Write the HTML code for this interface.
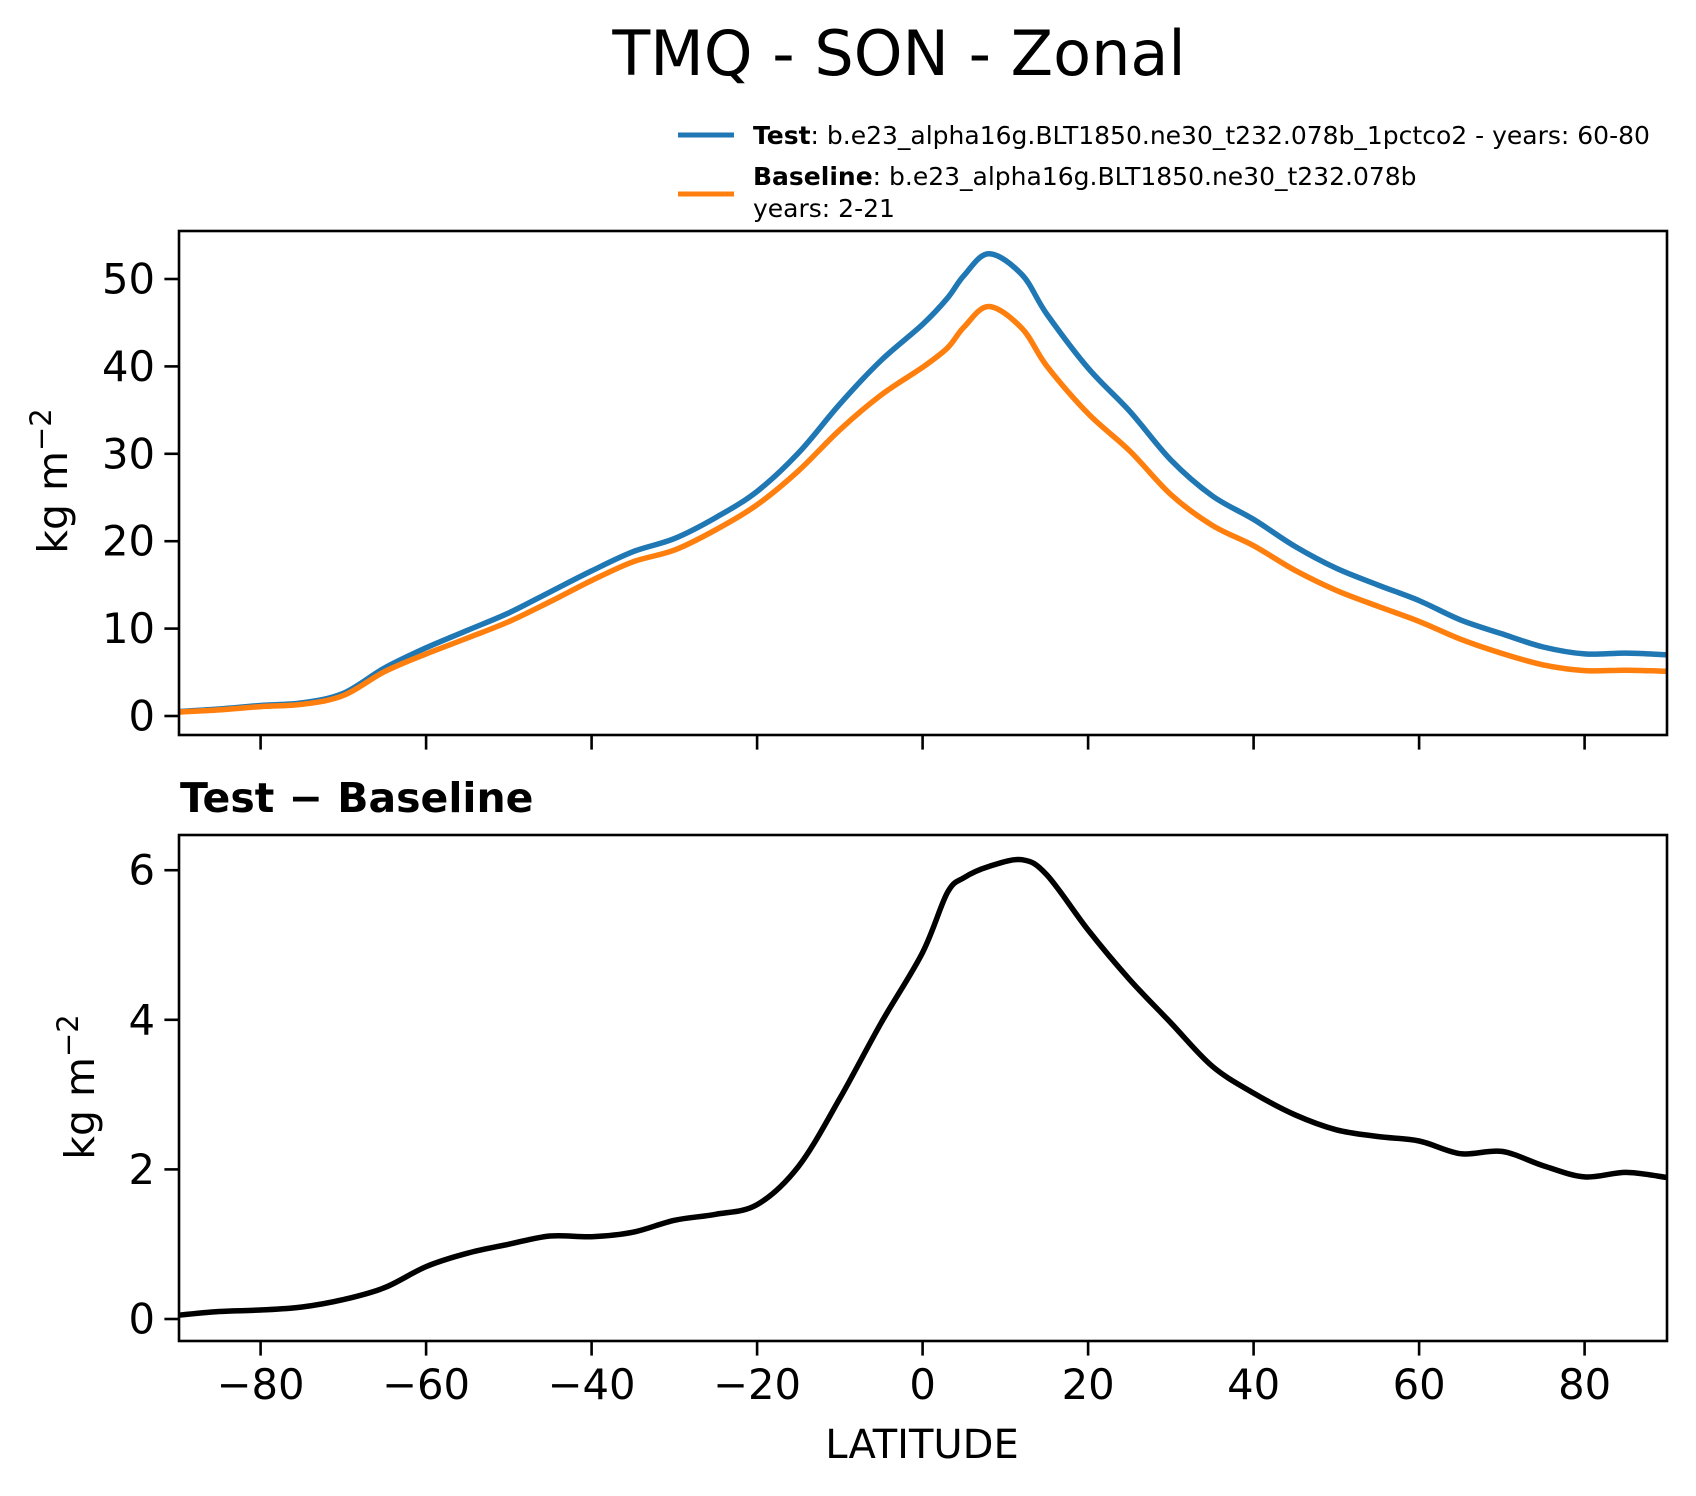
<!DOCTYPE html>
<html><head><meta charset="utf-8"><style>
html,body{margin:0;padding:0;background:#fff}
svg{display:block;font-family:"DejaVu Sans","Liberation Sans",sans-serif}
</style></head><body>
<svg id="chart" width="1696" height="1496" viewBox="0 0 1696 1496" xmlns="http://www.w3.org/2000/svg">
<text x="899" y="75" font-size="62" text-anchor="middle">TMQ - SON - Zonal</text>
<g>
<line x1="678" y1="135" x2="734" y2="135" stroke="#1f77b4" stroke-width="5"/>
<text x="753" y="144" font-size="25"><tspan font-weight="bold">Test</tspan>: b.e23_alpha16g.BLT1850.ne30_t232.078b_1pctco2 - years: 60-80</text>
<line x1="678" y1="194" x2="734" y2="194" stroke="#ff7f0e" stroke-width="5"/>
<text x="753" y="185" font-size="25"><tspan font-weight="bold">Baseline</tspan>: b.e23_alpha16g.BLT1850.ne30_t232.078b</text>
<text x="753" y="217" font-size="25">years: 2-21</text>
</g>
<text x="0" y="0" font-size="41" text-anchor="middle" transform="translate(67,481) rotate(-90)">kg m<tspan dy="-16" font-size="29">−2</tspan></text>
<text x="0" y="0" font-size="41" text-anchor="middle" transform="translate(94,1087) rotate(-90)">kg m<tspan dy="-16" font-size="29">−2</tspan></text>
<text x="180" y="812" font-size="41" font-weight="bold">Test − Baseline</text>
<text x="922" y="1458" font-size="40" text-anchor="middle">LATITUDE</text>
<g id="g-top"></g>
<g id="g-bot"></g>
</svg>
<script>
const lats = [-90,-85,-80,-75,-70,-65,-60,-55,-50,-45,-40,-35,-30,-25,-20,-15,-10,-5,0,3,5,8,12,15,20,25,30,35,40,45,50,55,60,65,70,75,80,85,90];
const testVals = [0.5,0.8,1.2,1.5,2.6,5.5,7.8,9.8,11.8,14.2,16.6,18.8,20.3,22.7,25.7,30.1,35.7,40.7,44.8,47.8,50.4,52.9,50.5,46,39.8,34.9,29.3,25.2,22.5,19.4,16.9,15,13.2,11,9.4,7.9,7.1,7.2,7.0];
const baseVals = [0.45,0.7,1.08,1.34,2.34,5.08,7.1,8.92,10.8,13.09,15.5,17.64,18.98,21.3,24.17,28.06,32.75,36.74,39.9,42.1,44.5,46.85,44.36,40.06,34.6,30.36,25.34,21.82,19.48,16.67,14.37,12.56,10.82,8.79,7.16,5.85,5.2,5.24,5.11];
const diffVals = [0.05,0.1,0.12,0.16,0.26,0.42,0.7,0.88,1.0,1.11,1.1,1.16,1.32,1.4,1.53,2.04,2.95,3.96,4.9,5.7,5.9,6.05,6.14,5.94,5.2,4.54,3.96,3.38,3.02,2.73,2.53,2.44,2.38,2.21,2.24,2.05,1.9,1.96,1.89];
const xTicks = [-80,-60,-40,-20,0,20,40,60,80];
const xTickLabels = ["−80","−60","−40","−20","0","20","40","60","80"];
const topTicks = [0,10,20,30,40,50];
const botTicks = [0,2,4,6];

const NS="http://www.w3.org/2000/svg";
const X0=179, X1=1667;
const xs = v => 922.6 + v*8.275;
const yTop = v => 716 - v*8.74;
const yBot = v => 1319 - v*74.8;
function mk(tag, attrs, parent){const e=document.createElementNS(NS,tag);for(const k in attrs)e.setAttribute(k,attrs[k]);parent.appendChild(e);return e;}
function smoothPath(xv, yv, fx, fy){
  const p = xv.map((x,i)=>[fx(x), fy(yv[i])]);
  let d = "M"+p[0][0].toFixed(1)+","+p[0][1].toFixed(1);
  for(let i=0;i<p.length-1;i++){
    const p0=p[Math.max(0,i-1)],p1=p[i],p2=p[i+1],p3=p[Math.min(p.length-1,i+2)];
    const c1=[p1[0]+(p2[0]-p0[0])/6,p1[1]+(p2[1]-p0[1])/6];
    const c2=[p2[0]-(p3[0]-p1[0])/6,p2[1]-(p3[1]-p1[1])/6];
    d+=" C"+c1[0].toFixed(1)+","+c1[1].toFixed(1)+" "+c2[0].toFixed(1)+","+c2[1].toFixed(1)+" "+p2[0].toFixed(1)+","+p2[1].toFixed(1);
  }
  return d;
}
function panel(g, top, bottom, yf, ticks, showX, name){
  const cid = "clip-"+name;
  const cp = mk("clipPath",{id:cid},g);
  mk("rect",{x:X0,y:top,width:X1-X0,height:bottom-top},cp);
  ticks.forEach(t=>{
    const y=yf(t);
    const l=mk("line",{x1:X0-14.6,y1:y,x2:X0,y2:y,stroke:"#000","stroke-width":2.6},g);
    
    
    const tx=mk("text",{x:X0-24,y:y+14.5,"font-size":41.7,"text-anchor":"end"},g);
    tx.textContent=String(t);
    
    
  });
  xTicks.forEach((t,i)=>{
    const x=xs(t);
    const l=mk("line",{x1:x,y1:bottom,x2:x,y2:bottom+14.6,stroke:"#000","stroke-width":2.6},g);
    
    
    if(showX){
      const tx=mk("text",{x:x,y:bottom+58,"font-size":41.7,"text-anchor":"middle"},g);
      tx.textContent=xTickLabels[i];
      
      
    }
  });
  const lines = mk("g",{"clip-path":"url(#"+cid+")"},g);
  const fr=mk("rect",{x:X0,y:top,width:X1-X0,height:bottom-top,fill:"none",stroke:"#000","stroke-width":2.6},g);
  
  
  return lines;
}
const topG = panel(document.getElementById("g-top"),231,735,yTop,topTicks,false,"top-panel");
const botG = panel(document.getElementById("g-bot"),835,1341,yBot,botTicks,true,"bottom-panel");
const pt=mk("path",{d:smoothPath(lats,testVals,xs,yTop),fill:"none",stroke:"#1f77b4","stroke-width":5.5,"stroke-linejoin":"round"},topG);


const pb=mk("path",{d:smoothPath(lats,baseVals,xs,yTop),fill:"none",stroke:"#ff7f0e","stroke-width":5.5,"stroke-linejoin":"round"},topG);


const pd=mk("path",{d:smoothPath(lats,diffVals,xs,yBot),fill:"none",stroke:"#000","stroke-width":5.5,"stroke-linejoin":"round"},botG);


</script>
</body></html>
